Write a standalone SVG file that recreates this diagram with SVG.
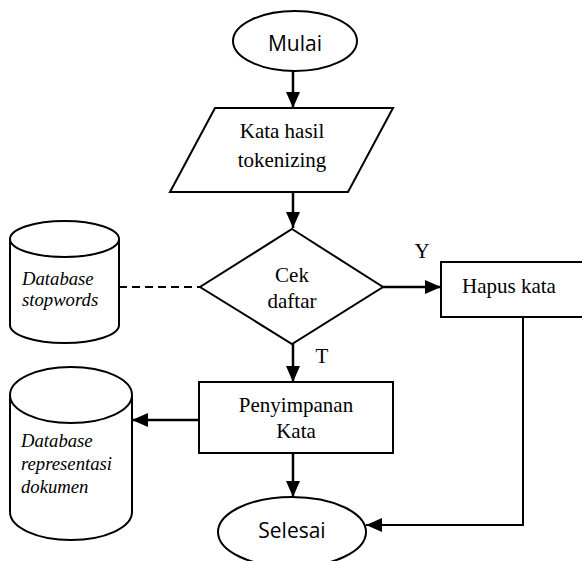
<svg xmlns="http://www.w3.org/2000/svg" width="582" height="561" viewBox="0 0 582 561">
<style>
.s{fill:#fff;stroke:#000;stroke-width:2}
.c{fill:none;stroke:#000;stroke-width:2.5}
.t{font-family:"Liberation Serif","Times New Roman",serif;font-size:21px;fill:#000}
.i{font-family:"Liberation Serif","Times New Roman",serif;font-size:18.7px;font-style:italic;fill:#000}
.o{font-family:"Open Sans","Liberation Sans",sans-serif;font-size:21px;fill:#000}
</style>
<defs>
<marker id="ah" markerUnits="userSpaceOnUse" markerWidth="17" markerHeight="15" refX="16" refY="7" orient="auto">
<path d="M0,0 L16,7 L0,14 z" fill="#000"/>
</marker>
</defs>
<rect width="582" height="561" fill="#fff"/>
<g id="connectors">
<line class="c" x1="293" y1="71" x2="293" y2="108" marker-end="url(#ah)"/>
<line class="c" x1="293" y1="192" x2="293" y2="228" marker-end="url(#ah)"/>
<line class="c" x1="382" y1="287" x2="441" y2="287" marker-end="url(#ah)"/>
<line class="c" x1="293" y1="344" x2="293" y2="382" marker-end="url(#ah)"/>
<line class="c" x1="293" y1="453" x2="293" y2="497" marker-end="url(#ah)"/>
<line class="c" x1="199" y1="420" x2="132" y2="420" marker-end="url(#ah)"/>
<polyline class="c" style="stroke-width:2" points="523,317 523,525 366,525" marker-end="url(#ah)"/>
<line class="c" style="stroke-width:2" stroke-dasharray="8,5" x1="119" y1="287" x2="200" y2="287"/>
<text class="t" x="422" y="258" text-anchor="middle">Y</text>
<text class="t" x="322" y="363" text-anchor="middle">T</text>
</g>
<g id="mulai">
<ellipse class="s" cx="295" cy="41" rx="62" ry="30"/>
<text class="o" x="295" y="51" text-anchor="middle">Mulai</text>
</g>
<g id="input">
<polygon class="s" points="215,108 393,108 348,192 170,192"/>
<text class="t" x="282" y="138" text-anchor="middle">Kata hasil</text>
<text class="t" x="282" y="167" text-anchor="middle">tokenizing</text>
</g>
<g id="cek">
<polygon class="s" points="292,229 383,287 292,344 200,287"/>
<text class="t" x="292" y="282" text-anchor="middle">Cek</text>
<text class="t" x="292" y="308" text-anchor="middle">daftar</text>
</g>
<g id="hapus">
<rect class="s" x="441" y="262" width="150" height="55"/>
<text class="t" x="462" y="293">Hapus kata</text>
</g>
<g id="simpan">
<rect class="s" x="199" y="382" width="194" height="71"/>
<text class="t" x="296" y="412" text-anchor="middle">Penyimpanan</text>
<text class="t" x="296" y="438" text-anchor="middle">Kata</text>
</g>
<g id="selesai">
<ellipse class="s" cx="292" cy="532" rx="74" ry="35"/>
<text class="o" x="292" y="538" text-anchor="middle">Selesai</text>
</g>
<g id="db-stopwords">
<path class="s" d="M10,239 L10,325 A54.5,18 0 0 0 119,325 L119,239"/>
<ellipse class="s" cx="64.5" cy="239" rx="54.5" ry="18"/>
<text class="i" x="22" y="285">Database</text>
<text class="i" x="22" y="306">stopwords</text>
</g>
<g id="db-dokumen">
<path class="s" d="M10,395 L10,512 A61,28 0 0 0 132,512 L132,395"/>
<ellipse class="s" cx="71" cy="395" rx="61" ry="28"/>
<text class="i" x="21" y="447">Database</text>
<text class="i" x="21" y="470">representasi</text>
<text class="i" x="21" y="493">dokumen</text>
</g>
</svg>
